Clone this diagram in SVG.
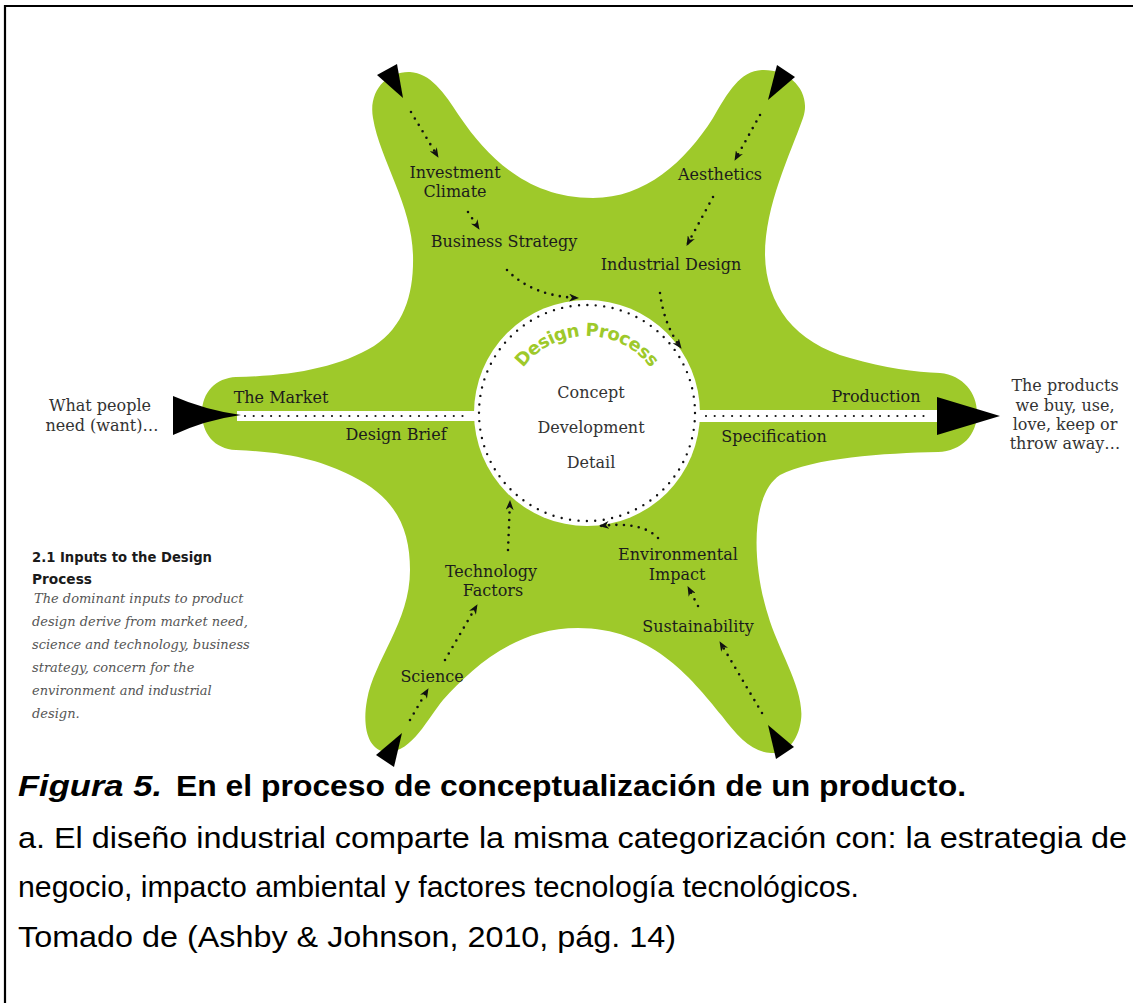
<svg xmlns="http://www.w3.org/2000/svg" width="1133" height="1003" viewBox="0 0 1133 1003">
<style>
.lbl{font-family:"DejaVu Serif","Liberation Serif",serif;font-size:16px;fill:#1c1c1c;text-anchor:middle}
.gray{fill:#333}
.side{font-family:"DejaVu Serif","Liberation Serif",serif;font-style:italic;font-size:13px;fill:#555}
.head{font-family:"DejaVu Sans","Liberation Sans",sans-serif;font-weight:bold;font-size:14px;fill:#1a1a1a}
.cap{font-family:"Liberation Sans",Arial,sans-serif;font-size:30px;fill:#000}
.dots{fill:none;stroke:#111;stroke-linecap:round;stroke-width:2.6;stroke-dasharray:0 7.5}
.strip{fill:none;stroke:#111;stroke-linecap:round;stroke-width:2.2;stroke-dasharray:0 8.7}
</style>
<defs>
<marker id="ah" viewBox="0 0 10 8" refX="9" refY="4" markerWidth="10" markerHeight="8" markerUnits="userSpaceOnUse" orient="auto">
<path d="M0,0 L10,4 L0,8 L3,4 z" fill="#111"/>
</marker>
<path id="dp" d="M 507,416 A 80 80 0 0 1 667,416"/>
</defs>
<rect width="1133" height="1003" fill="#fff"/>
<g id="border" stroke="#000" stroke-width="2.2">
<line x1="4" y1="6" x2="1133" y2="6"/>
<line x1="5" y1="5" x2="5" y2="1003"/>
</g>
<g id="star">
<path fill="#9ec92a" d="M 373,118 C 368,90 388,71 410,72 C 430,73 444,92 460,117 C 488,158 528,198 593,198 C 645,198 685,162 713,118 C 728,92 740,71 762,70 C 790,69 812,92 803,118 C 790,155 765,205 765,255 C 766,305 795,343 850,358 C 885,368 915,372 940,373 C 963,375 977,393 977,413 C 977,435 962,451 938,452 C 885,453 812,458 780,475 C 750,495 752,565 768,615 C 778,650 805,690 801,720 C 798,742 786,754 771,753 C 752,752 738,737 722,716 C 690,676 650,628 578,628 C 515,628 472,668 443,700 C 428,718 412,752 388,752 C 368,752 362,727 367,700 C 374,660 410,622 410,570 C 410,530 397,498 352,476 C 322,461 290,452 236,450 C 214,449 202,433 202,413 C 202,392 216,378 236,377 C 290,376 338,368 374,346 C 405,326 414,292 413,255 C 412,205 380,160 373,118 Z"/>
<rect x="237" y="411" width="240" height="10" fill="#fff"/>
<rect x="696" y="410" width="242" height="12" fill="#fff"/>
</g>
<g id="design-process">
<circle cx="587" cy="413" r="113" fill="#fff"/>
<circle cx="587" cy="413" r="108" fill="none" stroke="#111" stroke-width="2.4" stroke-linecap="round" stroke-dasharray="0 8.48"/>
<text font-family="'DejaVu Sans','Liberation Sans',sans-serif" font-weight="900" font-size="18" fill="#9ec92a"><textPath href="#dp" startOffset="50%" text-anchor="middle" textLength="148">Design Process</textPath></text>
<text class="lbl gray" x="591" y="398">Concept</text>
<text class="lbl gray" x="591" y="433">Development</text>
<text class="lbl gray" x="591" y="468">Detail</text>
</g>
<g id="connectors">
<line class="strip" x1="245" y1="416" x2="470" y2="416"/>
<line class="strip" x1="706" y1="416" x2="932" y2="416"/>
<path d="M173,396 Q205,410 241,415 Q205,420 173,435 Z" fill="#000"/>
<path d="M937,397 L1000,416 L937,435 Z" fill="#000"/>
<polygon points="377,75 397,64 403,98" fill="#000"/>
<polygon points="777,65 795,77 768,100" fill="#000"/>
<polygon points="376,755 394,767 402,733" fill="#000"/>
<polygon points="776,759 794,747 768,725" fill="#000"/>
<path class="dots" d="M411,112 L438,157" marker-end="url(#ah)"/>
<path class="dots" d="M468,212 L479,229" marker-end="url(#ah)"/>
<path class="dots" d="M507,270 Q532,296 578,298" marker-end="url(#ah)"/>
<path class="dots" d="M760,115 L735,160" marker-end="url(#ah)"/>
<path class="dots" d="M713,197 L687,245" marker-end="url(#ah)"/>
<path class="dots" d="M660,293 Q664,325 681,348" marker-end="url(#ah)"/>
<path class="dots" d="M410,720 L428,689" marker-end="url(#ah)"/>
<path class="dots" d="M445,660 L477,605" marker-end="url(#ah)"/>
<path class="dots" d="M508,550 L510,501" marker-end="url(#ah)"/>
<path class="dots" d="M762,713 L720,642" marker-end="url(#ah)"/>
<path class="dots" d="M698,606 L688,587" marker-end="url(#ah)"/>
<path class="dots" d="M658,538 Q642,521 600,526" marker-end="url(#ah)"/>
</g>
<g id="labels">
<text class="lbl" x="455" y="178">Investment</text>
<text class="lbl" x="455" y="197">Climate</text>
<text class="lbl" x="504" y="247">Business Strategy</text>
<text class="lbl" x="720" y="180">Aesthetics</text>
<text class="lbl" x="671" y="270">Industrial Design</text>
<text class="lbl" x="281" y="403">The Market</text>
<text class="lbl" x="396" y="440">Design Brief</text>
<text class="lbl" x="876" y="402">Production</text>
<text class="lbl" x="774" y="442">Specification</text>
<text class="lbl" x="491" y="577">Technology</text>
<text class="lbl" x="493" y="596">Factors</text>
<text class="lbl" x="432" y="682">Science</text>
<text class="lbl" x="678" y="560">Environmental</text>
<text class="lbl" x="677" y="580">Impact</text>
<text class="lbl" x="698" y="632">Sustainability</text>
<text class="lbl gray" x="100" y="411">What people</text>
<text class="lbl gray" x="102" y="431">need (want)…</text>
<text class="lbl gray" x="1065" y="391">The products</text>
<text class="lbl gray" x="1065" y="411">we buy, use,</text>
<text class="lbl gray" x="1065" y="430">love, keep or</text>
<text class="lbl gray" x="1065" y="449">throw away…</text>
</g>
<g id="side-note">
<text class="head" x="32" y="562" textLength="180" lengthAdjust="spacingAndGlyphs">2.1 Inputs to the Design</text>
<text class="head" x="32" y="584" textLength="60" lengthAdjust="spacingAndGlyphs">Process</text>
<text class="side" x="34" y="603">The dominant inputs to product</text>
<text class="side" x="32" y="626">design derive from market need,</text>
<text class="side" x="32" y="649">science and technology, business</text>
<text class="side" x="32" y="672">strategy, concern for the</text>
<text class="side" x="32" y="695">environment and industrial</text>
<text class="side" x="32" y="718">design.</text>
</g>
<g id="caption">
<text class="cap" y="796"><tspan x="18" font-weight="bold" font-style="italic" textLength="144" lengthAdjust="spacingAndGlyphs">Figura 5.</tspan><tspan x="176" font-weight="bold" textLength="790" lengthAdjust="spacingAndGlyphs">En el proceso de conceptualización de un producto.</tspan></text>
<text class="cap" x="18" y="848" textLength="1109" lengthAdjust="spacingAndGlyphs">a. El diseño industrial comparte la misma categorización con: la estrategia de</text>
<text class="cap" x="18" y="897" textLength="841" lengthAdjust="spacingAndGlyphs">negocio, impacto ambiental y factores tecnología tecnológicos.</text>
<text class="cap" x="18" y="947" textLength="658" lengthAdjust="spacingAndGlyphs">Tomado de (Ashby &amp; Johnson, 2010, pág. 14)</text>
</g>
</svg>
